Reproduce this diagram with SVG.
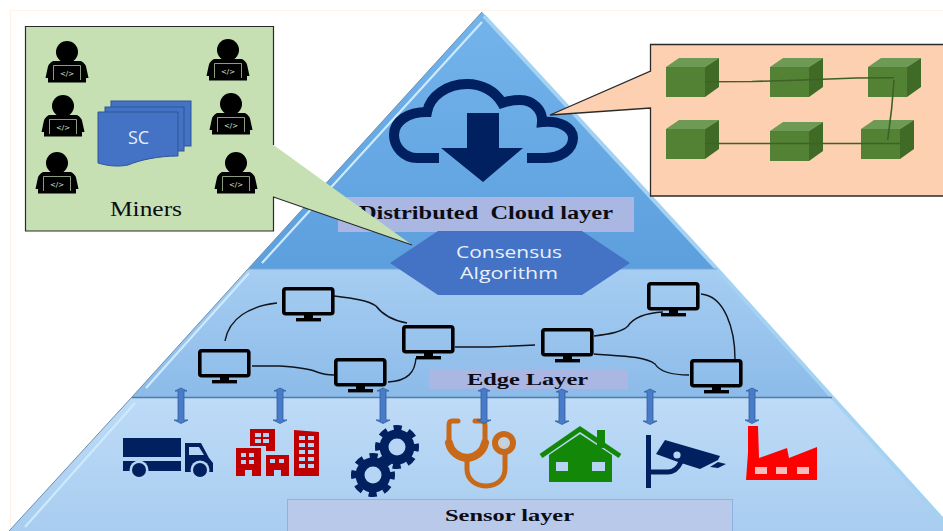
<svg xmlns="http://www.w3.org/2000/svg" width="943" height="531" viewBox="0 0 943 531">
<style>
.ser{font-family:"Liberation Serif","Times New Roman",serif;fill:#0c0c14;white-space:pre}
.b{font-weight:700}
.san{font-family:"Open Sans","Noto Sans",sans-serif;fill:#e8f0fa}
.cv{fill:none;stroke:#10141c;stroke-width:1.4}
.nv{fill:#002060}
.w{fill:#b6d5f4}
.rw{fill:#b6d5f4}
.lbl{fill:#a9b7e2}
.link{fill:none;stroke:#3e6126;stroke-width:1.6}
.f{fill:#548235}.t{fill:#6d9b55}.s{fill:#3f6b26}
.da{fill:#4a7bc8;stroke:#2f5f9e;stroke-width:.8}
</style>
<defs>
<linearGradient id="g1" x1="0" y1="0" x2="0" y2="1"><stop offset="0" stop-color="#74b4ec"/><stop offset="1" stop-color="#5c9fdd"/></linearGradient>
<linearGradient id="g2" x1="0" y1="0" x2="0" y2="1"><stop offset="0" stop-color="#a6cdf2"/><stop offset="1" stop-color="#8cbbe9"/></linearGradient>
<linearGradient id="g3" x1="0" y1="0" x2="0" y2="1"><stop offset="0" stop-color="#bedbf7"/><stop offset="1" stop-color="#a8cdf0"/></linearGradient>
<g id="person">
<circle cx="0" cy="0" r="11" fill="#000"/>
<path d="M-14 9 H14 Q19 11 20 19 L21.500 26 H19 V30.500 H-19 V26 H-21.500 L-20 19 Q-19 11 -14 9 Z" fill="#000"/>
<path d="M-13.500 28 V13.500 H13.500 V28" fill="none" stroke="#c6e0b4" stroke-width=".7"/>
<text x="0" y="24" text-anchor="middle" font-family="'DejaVu Sans',sans-serif" font-size="7" fill="#dfe8d8">&lt;/&gt;</text>
</g>
<g id="mon">
<rect x="1.800" y="1.800" width="49" height="25" rx="2" fill="none" stroke="#000" stroke-width="3.600"/>
<rect x="22" y="28" width="9" height="4" fill="#000"/>
<rect x="14" y="31" width="25" height="3.400" fill="#000"/>
</g>
<g id="gear">
<circle r="17.500" class="nv"/>
<circle r="19.500" fill="none" stroke="#002060" stroke-width="5" stroke-dasharray="8.300 7" stroke-dashoffset="4"/>
<circle r="8.500" class="w"/>
</g>
<path id="da" d="M-3 3 L-6 3 L0 0 L6 3 L3 3 V32 L7 32 L0 35.500 L-7 32 L-3 32 Z"/>
<g id="cube">
<polygon class="f" points="0,9 39,9 39,39 0,39"/>
<polygon class="t" points="0,9 13,0 53,0 39,9"/>
<polygon class="s" points="39,9 53,0 53,29 39,39"/>
</g>
</defs>
<rect width="943" height="531" fill="#fff"/>
<path d="M10.500 531 V10.500 H943" fill="none" stroke="#fdf3ea" stroke-width="1.200"/>

<g id="pyramid">
<polygon id="layer-cloud" points="482,12 717,269 248,269" fill="url(#g1)"/>
<polygon id="layer-edge" points="248,269 717,269 832,397 132,397" fill="url(#g2)"/>
<polygon id="layer-sensor" points="132,397 832,397 943,518 943,531 9,531" fill="url(#g3)"/>
<path d="M482 22 L262 263 M249 273 L146 388 M135 403 L25 527" fill="none" stroke="#cdeafd" stroke-width="2.200"/>
<path d="M482 12 L248 269 L132 397 L9 531" fill="none" stroke="#6d8fae" stroke-width="1"/>
<path d="M484 16 L717 269 L832 397 L943 520" fill="none" stroke="#a4d2f3" stroke-width="4"/>
<path d="M248 269 H717" stroke="#7fa8d4" stroke-width="1.200" fill="none"/>
<path d="M132 397.500 H832" stroke="#4f7da8" stroke-width="1.400" fill="none"/>
</g>

<g id="cloud-label"><rect class="lbl" x="338" y="197" width="296" height="35"/>
<text class="ser b" x="359" y="219" font-size="18" textLength="254" lengthAdjust="spacingAndGlyphs" xml:space="preserve">Distributed  Cloud layer</text></g>

<g id="cloud">
<path d="M439 158 H417 C404 158 394 147 394 135 C394 121 408 112 427 112 C430 96 447 84 467 84 C482 84 495 91 502 103 C505 102 512 100 520 100 C533 100 543 110 542 122 C560 120 573 128 573 138 C573 150 560 158 545 158 H527" fill="none" stroke="#002060" stroke-width="10"/>
<polygon class="nv" points="467,113 499,113 499,148 523,148 483,182 441,148 467,148"/>
</g>

<g id="consensus">
<polygon points="390,263 438,231 582,231 630,263 582,295 438,295" fill="#4472c4"/>
<text class="san" x="509" y="258" font-size="17" text-anchor="middle" textLength="106" lengthAdjust="spacingAndGlyphs">Consensus</text>
<text class="san" x="509" y="279" font-size="17" text-anchor="middle" textLength="98" lengthAdjust="spacingAndGlyphs">Algorithm</text>
</g>

<g id="miners">
<path d="M25.500 26.500 H273.500 V145 L412 245 L273.500 197 V231 H25.500 Z" fill="#c6e0b4"/>
<path d="M273.500 145 V26.500 H25.500 V231 H273.500 V197 L412 245" fill="none" stroke="#2a2a2a" stroke-width="1.200"/>
<use href="#person" x="67" y="52"/>
<use href="#person" x="228" y="50"/>
<use href="#person" x="63" y="106"/>
<use href="#person" x="231" y="104"/>
<use href="#person" x="57" y="163"/>
<use href="#person" x="236" y="163"/>
<g id="sc" fill="#4472c4" stroke="#2f5597" stroke-width="1">
<rect x="111" y="101" width="80" height="45"/>
<rect x="105" y="107" width="79" height="44"/>
<path d="M98 112 H178 V156 C158 156 140 160 128 165 C118 167 108 166 98 163 Z"/>
</g>
<text x="138.500" y="144" text-anchor="middle" font-family="'Open Sans','Noto Sans',sans-serif" font-size="18" fill="#e6eefa">SC</text>
<text class="ser" x="110" y="216" font-size="20" textLength="72" lengthAdjust="spacingAndGlyphs">Miners</text>
</g>

<g id="blockchain">
<path d="M943 44.500 H650.500 V71 L550 115 L650.500 108 V196 H943 Z" fill="#fdd0b1"/>
<path d="M943 44.500 H650.500 V71 L550 115 L650.500 108 V196 H943" fill="none" stroke="#2a2a2a" stroke-width="1.300"/>
<use href="#cube" x="666" y="58"/>
<use href="#cube" x="770" y="58"/>
<use href="#cube" x="868" y="58"/>
<use href="#cube" x="666" y="120"/>
<use href="#cube" x="770" y="122"/>
<use href="#cube" x="861" y="120"/>
<path class="link" d="M705 81.700 L752 81.500 L803 80 L856 78 L894 77.700"/>
<path class="link" d="M894 80 L891.700 108 L887.700 140"/>
<path class="link" d="M705 143.500 H900"/>
</g>

<g id="edge-label"><rect class="lbl" x="429" y="369" width="199" height="20"/>
<text class="ser b" x="467" y="385" font-size="17" textLength="121" lengthAdjust="spacingAndGlyphs">Edge Layer</text></g>

<g id="edge-links">
<path class="cv" d="M225 341 C229 318 250 306 277 303"/>
<path class="cv" d="M334 296 C350 298 368 300 376 306 C382 314 390 320 407 323"/>
<path class="cv" d="M252 366 H280 C295 367 308 368 317 372 C322 374 328 375 334 375"/>
<path class="cv" d="M388 382 C408 381 415 372 416 358"/>
<path class="cv" d="M455 347 H490 L535 345"/>
<path class="cv" d="M594 336 C610 334 622 332 628 326 C634 317 645 313 663 312"/>
<path class="cv" d="M594 354 C620 356 645 356 655 364 C660 372 672 375 689 375"/>
<path class="cv" d="M701 294 C725 296 735 330 735 359"/>
</g>
<use id="monitor-1" href="#mon" x="282" y="287"/>
<use id="monitor-2" href="#mon" x="198" y="349"/>
<use id="monitor-3" href="#mon" x="334" y="358"/>
<use id="monitor-4" href="#mon" x="402" y="325"/>
<use id="monitor-5" href="#mon" x="541" y="328"/>
<use id="monitor-6" href="#mon" x="647" y="282"/>
<use id="monitor-7" href="#mon" x="690" y="359"/>

<g id="truck" class="nv">
<rect x="123" y="438" width="58" height="19"/>
<path d="M123 461 H181 V471 H123 Z"/>
<path d="M185 443 H201 L209 458 L213 463 V472 H185 Z"/>
<polygon class="w" points="189,447 199,447 204,455 189,455"/>
<circle cx="139" cy="470" r="9.500" class="w"/><circle cx="139" cy="470" r="7"/>
<circle cx="200" cy="470" r="9.500" class="w"/><circle cx="200" cy="470" r="7"/>
</g>

<g id="buildings" fill="#c00000">
<polygon points="250,429 275,429 275,451 266,451 266,446 250,446"/>
<path d="M236 448 H261 V476 H252 V470 H245 V476 H236 Z"/>
<path d="M266 455 H289 V476 H281 V470 H274 V476 H266 Z"/>
<polygon points="294,430 319,432 319,476 294,476"/>
<g class="rw">
<rect x="255" y="433" width="6" height="4"/><rect x="263" y="433" width="6" height="4"/><rect x="255" y="439" width="6" height="4"/><rect x="263" y="439" width="6" height="4"/>
<rect x="241" y="453" width="5" height="4"/><rect x="249" y="453" width="5" height="4"/><rect x="241" y="460" width="5" height="4"/><rect x="249" y="460" width="5" height="4"/>
<rect x="270" y="459" width="5" height="4"/><rect x="279" y="459" width="5" height="4"/>
<rect x="299" y="436" width="6" height="4"/><rect x="308" y="436" width="6" height="4"/><rect x="299" y="443" width="6" height="4"/><rect x="308" y="443" width="6" height="4"/><rect x="299" y="450" width="6" height="4"/><rect x="308" y="450" width="6" height="4"/><rect x="299" y="457" width="6" height="4"/><rect x="308" y="457" width="6" height="4"/><rect x="299" y="464" width="6" height="4"/><rect x="308" y="464" width="6" height="4"/>
</g>
</g>

<g id="gears">
<use href="#gear" x="397" y="447"/>
<use href="#gear" x="373" y="475"/>
</g>

<g id="stethoscope" fill="none" stroke="#c8691a" stroke-width="5" stroke-linecap="round">
<path d="M458 421 H452 Q449 421 449 425 V441 C449 452 458 459 467 459 C476 459 485 452 485 441 V425 Q485 421 481 421 H475"/>
<path d="M449 443 C451 452 458 457 467 458 C476 457 483 452 485 443" stroke-width="8"/>
<path d="M467 459 V469 C467 479 475 486 486 486 C497 486 505 479 505 469 V454"/>
<circle cx="504" cy="443" r="9" stroke-width="6"/>
<circle cx="504" cy="443" r="4" stroke="#e4c9a4" stroke-width="1.400"/>
</g>

<g id="house">
<rect x="597" y="430" width="8" height="18" fill="#138808"/>
<polygon points="549,482 549,455 580,434 612,455 612,482" fill="#138808"/>
<polyline points="541,456 580,429 620,456" fill="none" stroke="#138808" stroke-width="5"/>
<rect class="w" x="556" y="462" width="12" height="9"/><rect class="w" x="592" y="462" width="13" height="9"/>
</g>

<g id="camera" class="nv">
<rect x="646" y="435" width="5" height="53"/>
<path d="M650 472 H668 Q676 472 681 462" fill="none" stroke="#002060" stroke-width="5"/>
<polygon points="665,440 720,456 718,460 700,469 678,462 656,454"/>
<circle class="w" cx="677" cy="455" r="3.600"/>
<polygon points="710,467 718,462 726,464 718,468"/>
</g>

<g id="factory">
<polygon points="748,426 758,426 759,458 787,448 789,458 817,447 817,480 746,480 748,453" fill="#f00"/>
<g fill="#f6bcbc"><rect x="755" y="467" width="12" height="7"/><rect x="776" y="467" width="11" height="7"/><rect x="797" y="467" width="12" height="7"/></g>
</g>

<g id="sensor-label"><rect x="287.500" y="499.500" width="445" height="33" fill="#b9c9ea" stroke="#8fb0e0"/>
<text class="ser b" x="445" y="521" font-size="17" textLength="129" lengthAdjust="spacingAndGlyphs">Sensor layer</text></g>

<g id="connectors" class="da">
<use href="#da" x="181" y="388"/>
<use href="#da" x="280" y="388"/>
<use href="#da" x="383" y="388"/>
<use href="#da" x="484" y="388"/>
<use href="#da" x="562" y="389"/>
<use href="#da" x="650" y="389"/>
<use href="#da" x="752" y="388"/>
</g>
</svg>
